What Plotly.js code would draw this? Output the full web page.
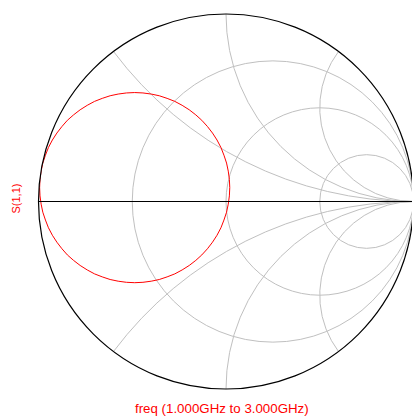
<!DOCTYPE html>
<html>
<head>
<meta charset="utf-8">
<script src="https://cdn.plot.ly/plotly-3.0.1.min.js"></script>
<style>
  html, body { margin: 0; padding: 0; background: #fff; overflow: hidden; }
  #chart { width: 415px; height: 420px; }
</style>
</head>
<body>
<div id="chart"></div>
<script>
// S(1,1) sweep, 1.000 GHz to 3.000 GHz: reflection coefficient (real / imaginary)
const s11Re = [-0.994, -0.992, -0.986, -0.977, -0.963, -0.947, -0.926, -0.902, -0.875, -0.846,
               -0.813, -0.778, -0.740, -0.701, -0.660, -0.618, -0.575, -0.531, -0.487, -0.443,
               -0.399, -0.356, -0.314, -0.273, -0.234, -0.196, -0.161, -0.129, -0.099, -0.072,
               -0.048, -0.027, -0.011, 0.003, 0.012, 0.018, 0.020, 0.018, 0.012, 0.003,
               -0.011, -0.027, -0.048, -0.072, -0.099, -0.129, -0.161, -0.196, -0.234, -0.273,
               -0.314, -0.356, -0.399, -0.443, -0.487, -0.531, -0.575, -0.618, -0.660, -0.701,
               -0.740, -0.778, -0.813, -0.846, -0.875, -0.902, -0.926, -0.947, -0.963, -0.977,
               -0.986, -0.992, -0.994];
const s11Im = [0.074, 0.118, 0.162, 0.205, 0.247, 0.288, 0.328, 0.365, 0.400, 0.433,
               0.462, 0.489, 0.513, 0.534, 0.550, 0.564, 0.573, 0.579, 0.581, 0.579,
               0.573, 0.564, 0.550, 0.534, 0.513, 0.489, 0.462, 0.433, 0.400, 0.365,
               0.328, 0.288, 0.247, 0.205, 0.162, 0.118, 0.074, 0.030, -0.014, -0.057,
               -0.099, -0.140, -0.180, -0.217, -0.252, -0.285, -0.314, -0.341, -0.365, -0.386,
               -0.402, -0.416, -0.425, -0.431, -0.433, -0.431, -0.425, -0.416, -0.402, -0.386,
               -0.365, -0.341, -0.314, -0.285, -0.252, -0.217, -0.180, -0.140, -0.099, -0.057,
               -0.014, 0.030, 0.074];

const traceName = 'S(1,1)';
const sweepLabel = 'freq (1.000GHz to 3.000GHz)';

// Smith chart grid: constant-resistance circles and constant-reactance arcs
const resistanceGrid = [1 / 3, 1, 3];
const reactanceGrid = [-2, -1, -0.5, 0.5, 1, 2];

// Normalised impedance z = (1 + G) / (1 - G) for the smith subplot
const zRe = [], zIm = [];
for (let i = 0; i < s11Re.length; i++) {
  const a = s11Re[i], b = s11Im[i];
  const d = (1 - a) * (1 - a) + b * b;
  zRe.push((1 - a * a - b * b) / d);
  zIm.push((2 * b) / d);
}

const red = '#ff0000';
const font = 'Liberation Sans, Arial, Helvetica, sans-serif';

const data = [{
  type: 'scattersmith',
  real: zRe,
  imag: zIm,
  mode: 'lines',
  name: traceName,
  line: { color: red, width: 1 },
  hoverinfo: 'skip'
}];

const layout = {
  width: 415,
  height: 420,
  margin: { l: 38, r: 1, t: 13.5, b: 30.5, pad: 0 },
  paper_bgcolor: '#ffffff',
  showlegend: false,
  font: { family: font },
  smith: {
    domain: { x: [0, 1], y: [0, 1] },
    bgcolor: '#ffffff',
    realaxis: {
      tickvals: resistanceGrid,
      showticklabels: false,
      ticks: '',
      showgrid: true,
      gridcolor: '#c0c0c0',
      gridwidth: 1,
      showline: true,
      linecolor: '#000000',
      linewidth: 1
    },
    imaginaryaxis: {
      tickvals: reactanceGrid,
      showticklabels: false,
      ticks: '',
      showgrid: true,
      gridcolor: '#c0c0c0',
      gridwidth: 1,
      showline: true,
      linecolor: '#000000',
      linewidth: 1.2
    }
  },
  annotations: [
    {
      text: traceName,
      xref: 'paper', yref: 'paper',
      x: (16 - 38) / 376, y: (389.5 - 198.5) / 376,
      xanchor: 'center', yanchor: 'middle',
      textangle: -90,
      showarrow: false,
      font: { family: font, size: 11, color: red }
    },
    {
      text: sweepLabel,
      xref: 'paper', yref: 'paper',
      x: (221.5 - 38) / 376, y: (389.5 - 409) / 376,
      xanchor: 'center', yanchor: 'middle',
      showarrow: false,
      font: { family: font, size: 13.3, color: red }
    }
  ]
};

Plotly.newPlot('chart', data, layout, { displayModeBar: false, staticPlot: true });
</script>
</body>
</html>
